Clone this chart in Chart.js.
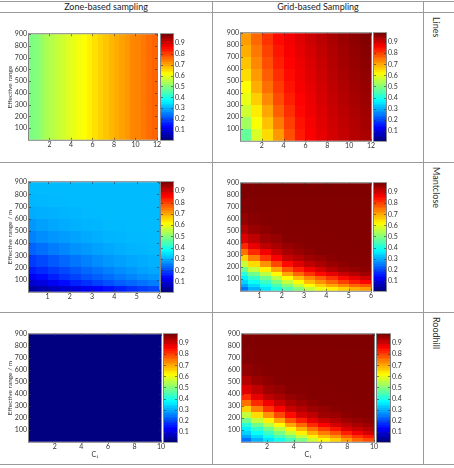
<!DOCTYPE html>
<html>
<head>
<meta charset="utf-8">
<script src="https://cdn.jsdelivr.net/npm/chart.js@4.4.1/dist/chart.umd.min.js"></script>
<style>
body { margin: 0; background: #fff; width: 454px; height: 468px; position: relative; overflow: hidden; font-family: Lato, "Open Sans", sans-serif; color: #222; }
.hl { position: absolute; left: 0; width: 454px; height: 1px; background: #9a9a9a; }
.vl { position: absolute; top: 1px; height: 464px; width: 1px; background: #9a9a9a; }
.hd { position: absolute; top: 2px; height: 10px; line-height: 10px; font-size: 9px; text-align: center; }
.rl { position: absolute; left: 431px; writing-mode: vertical-rl; font-size: 9px; line-height: 11px; color: #333; }
canvas { position: absolute; }
</style>
</head>
<body>
<div class="hl" style="top:1px"></div>
<div class="hl" style="top:12px"></div>
<div class="hl" style="top:162px"></div>
<div class="hl" style="top:312px"></div>
<div class="hl" style="top:464px"></div>
<div class="vl" style="left:212px"></div>
<div class="vl" style="left:423px"></div>
<div class="hd" style="left:0;width:212px">Zone-based sampling</div>
<div class="hd" style="left:213px;width:210px">Grid-based Sampling</div>
<div class="rl" style="top:17px">Lines</div>
<div class="rl" style="top:167px">Mantclose</div>
<div class="rl" style="top:317px">Roodhill</div>

<script>
// colour scale (shared by all six panels)
const cbRange = [0.01, 0.98];
const cbTickValues = [0.1, 0.2, 0.3, 0.4, 0.5, 0.6, 0.7, 0.8, 0.9];
const yTickValues = [100, 200, 300, 400, 500, 600, 700, 800, 900];

// --- Lines, zone-based (value only changes with C1)
const zoneLinesX = [0,0.5,1,1.5,2,2.5,3,3.5,4,4.5,5,5.5,6,6.5,7,7.5,8,8.5,9,9.5,10,10.5,11,11.5,12];
const zoneLinesY = [0, 900];
const zoneLinesV = [
  [0.49,0.50,0.515,0.535,0.55,0.56,0.57,0.585,0.595,0.605,0.615,0.63,0.645,0.66,0.67,0.685,0.695,0.705,0.715,0.73,0.735,0.745,0.755,0.765]
];
const linesTicks = [2, 4, 6, 8, 10, 12];

// --- Lines, grid-based
const gridLinesX = [0,1,2,3,4,5,6,7,8,9,10,11,12];
const gridLinesY = [0,100,200,300,400,500,600,700,800,900];
const gridLinesV = [
  [0.47,0.58,0.65,0.713,0.785,0.835,0.862,0.882,0.9,0.915,0.928,0.94],
  [0.527,0.612,0.675,0.743,0.80,0.843,0.867,0.887,0.904,0.919,0.932,0.944],
  [0.57,0.633,0.70,0.768,0.815,0.852,0.872,0.892,0.909,0.924,0.937,0.948],
  [0.597,0.663,0.728,0.788,0.83,0.858,0.877,0.897,0.914,0.929,0.942,0.952],
  [0.618,0.694,0.753,0.803,0.842,0.864,0.882,0.902,0.919,0.934,0.947,0.957],
  [0.65,0.711,0.769,0.816,0.85,0.87,0.888,0.907,0.924,0.939,0.952,0.962],
  [0.672,0.729,0.785,0.829,0.857,0.876,0.894,0.912,0.929,0.944,0.957,0.967],
  [0.693,0.745,0.797,0.84,0.864,0.882,0.9,0.918,0.934,0.949,0.961,0.972],
  [0.71,0.76,0.81,0.85,0.87,0.888,0.906,0.924,0.94,0.954,0.966,0.977]
];

// --- Mantclose, zone-based
const zoneMantX = [0,0.5,1,1.5,2,2.5,3,3.5,4,4.5,5,5.5,6];
const zoneMantY = [0,50,100,150,200,300,400,500,600,700,800,900];
const zoneMantV = [
  [0.04,0.055,0.07,0.085,0.1,0.115,0.13,0.145,0.16,0.175,0.19,0.2],
  [0.085,0.1,0.12,0.14,0.16,0.175,0.19,0.205,0.22,0.23,0.24,0.25],
  [0.12,0.14,0.16,0.18,0.195,0.21,0.222,0.235,0.247,0.258,0.268,0.275],
  [0.155,0.17,0.185,0.2,0.215,0.23,0.242,0.254,0.265,0.275,0.285,0.292],
  [0.185,0.2,0.215,0.23,0.243,0.255,0.265,0.275,0.283,0.29,0.295,0.3],
  [0.225,0.237,0.25,0.26,0.27,0.278,0.285,0.292,0.298,0.302,0.305,0.307],
  [0.255,0.265,0.273,0.28,0.287,0.293,0.298,0.302,0.305,0.307,0.308,0.31],
  [0.275,0.283,0.29,0.295,0.3,0.303,0.305,0.307,0.308,0.31,0.31,0.31],
  [0.295,0.298,0.3,0.303,0.305,0.307,0.308,0.31,0.31,0.31,0.31,0.31],
  [0.305,0.306,0.307,0.308,0.309,0.31,0.31,0.31,0.31,0.31,0.31,0.31],
  [0.31,0.31,0.31,0.31,0.31,0.31,0.31,0.31,0.31,0.31,0.31,0.31]
];
const mantTicks = [1, 2, 3, 4, 5, 6];

// --- Mantclose, grid-based
const gridMantX = [0,0.5,1,1.5,2,2.5,3,3.5,4,4.5,5,5.5,6];
const gridMantY = [0,30,60,90,120,160,200,250,300,350,400,475,550,650,775,900];
const gridMantV = [
  [0.24,0.30,0.35,0.40,0.45,0.50,0.56,0.60,0.63,0.66,0.69,0.71],
  [0.29,0.34,0.39,0.44,0.50,0.56,0.62,0.66,0.70,0.73,0.76,0.78],
  [0.33,0.38,0.43,0.49,0.56,0.62,0.68,0.72,0.76,0.80,0.83,0.86],
  [0.36,0.42,0.48,0.55,0.62,0.68,0.73,0.77,0.81,0.85,0.88,0.905],
  [0.41,0.48,0.55,0.62,0.70,0.76,0.81,0.85,0.88,0.91,0.93,0.95],
  [0.48,0.56,0.63,0.70,0.78,0.83,0.87,0.90,0.93,0.95,0.96,0.967],
  [0.56,0.65,0.72,0.79,0.85,0.89,0.92,0.94,0.955,0.966,0.974,0.975],
  [0.66,0.74,0.81,0.86,0.91,0.93,0.95,0.96,0.97,0.975,0.975,0.976],
  [0.75,0.82,0.87,0.91,0.94,0.955,0.966,0.975,0.975,0.976,0.976,0.977],
  [0.82,0.88,0.92,0.94,0.958,0.968,0.975,0.975,0.976,0.976,0.977,0.977],
  [0.89,0.92,0.95,0.96,0.973,0.975,0.976,0.976,0.977,0.977,0.977,0.978],
  [0.93,0.955,0.966,0.975,0.976,0.976,0.976,0.977,0.977,0.977,0.978,0.978],
  [0.96,0.972,0.976,0.976,0.977,0.977,0.977,0.977,0.978,0.978,0.978,0.978],
  [0.975,0.977,0.977,0.977,0.978,0.978,0.978,0.978,0.978,0.979,0.979,0.979],
  [0.98,0.98,0.98,0.98,0.98,0.98,0.98,0.98,0.98,0.98,0.98,0.98]
];

// --- Roodhill, zone-based (flat)
const zoneRoodX = [0, 10];
const zoneRoodY = [0, 900];
const zoneRoodV = [[0.01]];
const roodTicks = [2, 4, 6, 8, 10];

// --- Roodhill, grid-based
const gridRoodX = [0,0.83,1.67,2.5,3.33,4.17,5,5.83,6.67,7.5,8.33,9.17,10];
const gridRoodY = [0,30,60,90,120,160,200,250,300,350,400,475,550,650,775,900];
const gridRoodV = [
  [0.24,0.30,0.35,0.39,0.44,0.49,0.57,0.62,0.66,0.71,0.76,0.79],
  [0.29,0.34,0.39,0.44,0.49,0.56,0.63,0.68,0.72,0.77,0.81,0.84],
  [0.33,0.38,0.43,0.49,0.56,0.63,0.69,0.74,0.78,0.83,0.87,0.90],
  [0.36,0.42,0.48,0.55,0.63,0.69,0.75,0.80,0.84,0.89,0.91,0.93],
  [0.41,0.48,0.55,0.62,0.70,0.76,0.82,0.86,0.90,0.92,0.94,0.95],
  [0.48,0.56,0.63,0.70,0.78,0.83,0.88,0.91,0.93,0.95,0.96,0.967],
  [0.56,0.65,0.72,0.79,0.85,0.90,0.92,0.95,0.955,0.966,0.974,0.975],
  [0.66,0.74,0.81,0.86,0.91,0.93,0.95,0.96,0.97,0.975,0.975,0.976],
  [0.75,0.82,0.87,0.91,0.94,0.955,0.966,0.975,0.975,0.976,0.976,0.977],
  [0.82,0.88,0.92,0.94,0.958,0.968,0.975,0.975,0.976,0.976,0.977,0.977],
  [0.89,0.92,0.95,0.96,0.973,0.975,0.976,0.976,0.977,0.977,0.977,0.978],
  [0.93,0.955,0.966,0.975,0.976,0.976,0.976,0.977,0.977,0.977,0.978,0.978],
  [0.96,0.972,0.976,0.976,0.977,0.977,0.977,0.977,0.978,0.978,0.978,0.978],
  [0.975,0.977,0.977,0.977,0.978,0.978,0.978,0.978,0.978,0.979,0.979,0.979],
  [0.98,0.98,0.98,0.98,0.98,0.98,0.98,0.98,0.98,0.98,0.98,0.98]
];

// matlab "jet"
function jet(v) {
  const t = Math.max(0, Math.min(1, (v - cbRange[0]) / (cbRange[1] - cbRange[0])));
  const c = x => Math.round(255 * Math.max(0, Math.min(1, x)));
  return 'rgb(' + c(Math.min(4 * t - 1.5, -4 * t + 4.5)) + ',' +
    c(Math.min(4 * t - 0.5, -4 * t + 3.5)) + ',' +
    c(Math.min(4 * t + 0.5, -4 * t + 2.5)) + ')';
}

const heatPlugin = {
  id: 'heat',
  beforeDatasetsDraw(chart) {
    const o = chart.options.plugins.heat;
    const { ctx, chartArea: a } = chart;
    const xs = chart.scales.x, ys = chart.scales.y, cs = chart.scales.cb;
    ctx.save();
    ctx.beginPath();
    ctx.rect(a.left, a.top, a.right - a.left, a.bottom - a.top);
    ctx.clip();
    chart.data.datasets[0].data.forEach(c => {
      const x0 = Math.round(xs.getPixelForValue(c.x0)), x1 = Math.round(xs.getPixelForValue(c.x1));
      const y0 = Math.round(ys.getPixelForValue(c.y0)), y1 = Math.round(ys.getPixelForValue(c.y1));
      ctx.fillStyle = jet(c.v);
      ctx.fillRect(x0, y1, x1 - x0, y0 - y1);
    });
    ctx.restore();

    // colour bar, 64 steps like jet(64)
    const bx = a.right + o.gap;
    for (let i = 0; i < 64; i++) {
      const v0 = cbRange[0] + (cbRange[1] - cbRange[0]) * i / 64;
      const v1 = cbRange[0] + (cbRange[1] - cbRange[0]) * (i + 1) / 64;
      const p0 = Math.round(cs.getPixelForValue(v0)), p1 = Math.round(cs.getPixelForValue(v1));
      ctx.fillStyle = jet((v0 + v1) / 2);
      ctx.fillRect(bx, p1, o.bar, p0 - p1);
    }

    // frames and inward ticks
    ctx.strokeStyle = 'rgba(50,50,50,0.6)';
    ctx.lineWidth = 1;
    ctx.strokeRect(a.left - 0.5, a.top - 0.5, a.right - a.left + 1, a.bottom - a.top + 1);
    ctx.strokeRect(bx - 0.5, a.top - 0.5, o.bar + 1, a.bottom - a.top + 1);
    ctx.beginPath();
    xs.ticks.forEach(t => {
      const px = Math.round(xs.getPixelForValue(t.value)) + 0.5;
      ctx.moveTo(px, a.bottom); ctx.lineTo(px, a.bottom - 2);
      ctx.moveTo(px, a.top); ctx.lineTo(px, a.top + 2);
    });
    ys.ticks.forEach(t => {
      const py = Math.round(ys.getPixelForValue(t.value)) + 0.5;
      ctx.moveTo(a.left, py); ctx.lineTo(a.left + 2, py);
      ctx.moveTo(a.right, py); ctx.lineTo(a.right - 2, py);
    });
    cs.ticks.forEach(t => {
      const py = Math.round(cs.getPixelForValue(t.value)) + 0.5;
      ctx.moveTo(bx, py); ctx.lineTo(bx + 2, py);
      ctx.moveTo(bx + o.bar, py); ctx.lineTo(bx + o.bar - 2, py);
    });
    ctx.stroke();
  }
};

// layout: canvas box on the page and plot area inside it
const panels = [
  { xE: zoneLinesX, yE: zoneLinesY, v: zoneLinesV, ticks: linesTicks, xMin: 0.1, xMax: 12,
    left: 0, top: 12, w: 212, h: 150, area: [29, 157, 12, 132], gap: 4, bar: 12, yTitle: 'Effective range' },
  { xE: gridLinesX, yE: gridLinesY, v: gridLinesV, ticks: linesTicks, xMin: 0.1, xMax: 12,
    left: 212, top: 12, w: 211, h: 150, area: [29, 159, 12, 132], gap: 3, bar: 12 },
  { xE: zoneMantX, yE: zoneMantY, v: zoneMantV, ticks: mantTicks, xMin: 0.17, xMax: 6,
    left: 0, top: 162, w: 212, h: 150, area: [29, 159, 11, 133], gap: 2, bar: 12, yTitle: 'Effective range / m' },
  { xE: gridMantX, yE: gridMantY, v: gridMantV, ticks: mantTicks, xMin: 0.17, xMax: 6,
    left: 212, top: 162, w: 211, h: 150, area: [29, 159, 11, 133], gap: 3, bar: 12 },
  { xE: zoneRoodX, yE: zoneRoodY, v: zoneRoodV, ticks: roodTicks, xMin: 0.05, xMax: 10,
    left: 0, top: 312, w: 212, h: 152, area: [29, 161, 11, 132], gap: 3, bar: 13, yTitle: 'Effective range / m', xTitle: 'C\u2081' },
  { xE: gridRoodX, yE: gridRoodY, v: gridRoodV, ticks: roodTicks, xMin: 0.12, xMax: 10,
    left: 212, top: 312, w: 211, h: 152, area: [30, 162, 11, 132], gap: 3, bar: 13, xTitle: 'C\u2081' }
];

const tickFont = { family: 'Lato', size: 7 };

panels.forEach(p => {
  const cv = document.createElement('canvas');
  cv.width = p.w; cv.height = p.h;
  cv.style.left = p.left + 'px'; cv.style.top = p.top + 'px';
  cv.style.width = p.w + 'px'; cv.style.height = p.h + 'px';
  document.body.appendChild(cv);

  const cells = [];
  p.v.forEach((row, j) => row.forEach((val, i) => {
    cells.push({ x: (p.xE[i] + p.xE[i + 1]) / 2, y: (p.yE[j] + p.yE[j + 1]) / 2,
      x0: p.xE[i], x1: p.xE[i + 1], y0: p.yE[j], y1: p.yE[j + 1], v: val });
  }));

  new Chart(cv, {
    type: 'scatter',
    data: { datasets: [{ data: cells, pointRadius: 0, pointHoverRadius: 0 }] },
    options: {
      responsive: false,
      animation: false,
      events: [],
      layout: { padding: { top: p.area[2], left: 0, right: 0, bottom: 0 } },
      plugins: { legend: { display: false }, tooltip: { enabled: false }, heat: { gap: p.gap, bar: p.bar } },
      scales: {
        x: {
          type: 'linear', min: p.xMin, max: p.xMax,
          afterBuildTicks: s => { s.ticks = p.ticks.map(v => ({ value: v })); },
          afterFit: s => { s.height = p.h - p.area[3]; },
          grid: { display: false, drawTicks: false }, border: { display: false },
          ticks: { font: tickFont, color: '#333', padding: 1, maxRotation: 0, autoSkip: false },
          title: { display: !!p.xTitle, text: p.xTitle || '', font: { family: 'Lato', size: 7 }, color: '#333', padding: { top: 0, bottom: 3 } }
        },
        y: {
          type: 'linear', min: 0, max: 900,
          afterBuildTicks: s => { s.ticks = yTickValues.map(v => ({ value: v })); },
          afterFit: s => { s.width = p.area[0]; },
          grid: { display: false, drawTicks: false }, border: { display: false },
          ticks: { font: tickFont, color: '#333', padding: 2, autoSkip: false },
          title: { display: !!p.yTitle, text: p.yTitle || '', font: { family: 'Lato', size: 6.5 }, color: '#333', padding: { top: 6, bottom: 0 } }
        },
        cb: {
          type: 'linear', position: 'right', min: cbRange[0], max: cbRange[1],
          afterBuildTicks: s => { s.ticks = cbTickValues.map(v => ({ value: v })); },
          afterFit: s => { s.width = p.w - p.area[1]; },
          grid: { display: false, drawTicks: false }, border: { display: false },
          ticks: { font: tickFont, color: '#333', padding: p.gap + p.bar + 2, autoSkip: false, callback: v => v.toFixed(1) }
        }
      }
    },
    plugins: [heatPlugin]
  });
});
</script>
</body>
</html>
